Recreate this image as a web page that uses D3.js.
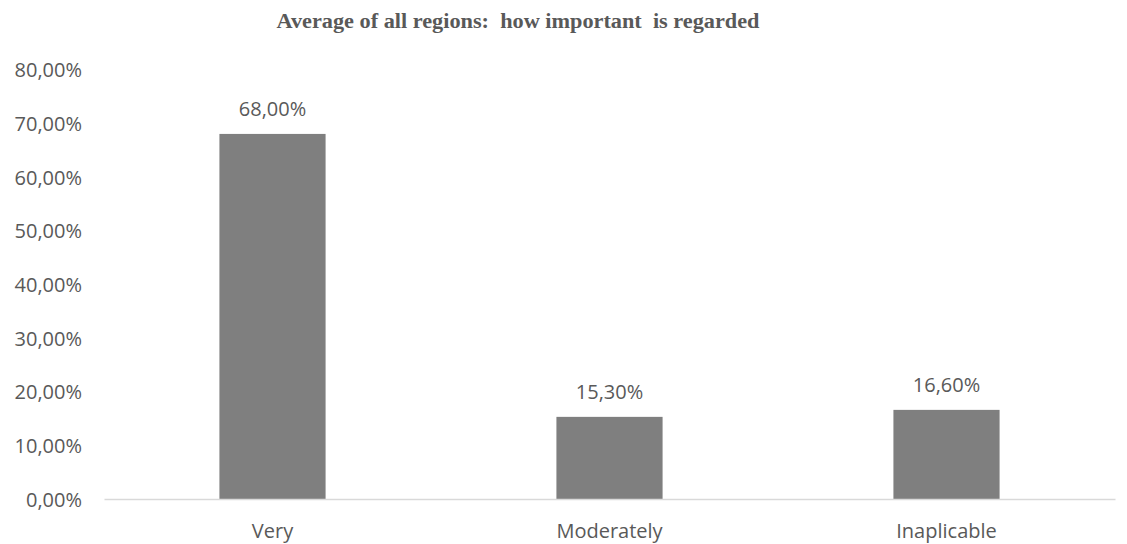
<!DOCTYPE html>
<html>
<head>
<meta charset="utf-8">
<script src="https://cdn.jsdelivr.net/npm/d3@7"></script>
<style>
  html, body { margin: 0; padding: 0; background: #ffffff; }
  svg { display: block; }
</style>
</head>
<body>
<svg id="chart" width="1127" height="544"></svg>
<script>
// Share of respondents per importance level, averaged over all regions
const categories = ["Very", "Moderately", "Inaplicable"];
const shares = [0.68, 0.153, 0.166];
const yTicks = [0, 0.1, 0.2, 0.3, 0.4, 0.5, 0.6, 0.7, 0.8];
const titleText = "Average of all regions:  how important  is regarded";

const width = 1127, height = 544;
const margin = { top: 69.5, right: 12, bottom: 45, left: 104 };

const svg = d3.select("#chart");

// Decimal comma, as in the European number format
const locale = d3.formatLocale({ decimal: ",", thousands: ".", grouping: [3], currency: ["", " €"] });
const pct = locale.format(".2%");

const x = d3.scaleBand()
  .domain(categories)
  .range([margin.left, width - margin.right])
  .paddingInner(0.685)
  .paddingOuter(0.3425);

const y = d3.scaleLinear()
  .domain([0, 0.8])
  .range([height - margin.bottom, margin.top]);

const textColor = "#595959";
const fontFamily = "'Open Sans', 'Noto Sans', sans-serif";
const labelSize = 20;

// Title
svg.append("text")
  .attr("x", 518)
  .attr("y", 28)
  .attr("text-anchor", "middle")
  .style("white-space", "pre")
  .attr("font-family", "'Liberation Serif', 'Times New Roman', serif")
  .attr("font-weight", "bold")
  .attr("font-size", 20)
  .attr("textLength", 483)
  .attr("lengthAdjust", "spacingAndGlyphs")
  .attr("fill", textColor)
  .text(titleText);

// Y axis: labels only
const yAxis = d3.axisLeft(y)
  .tickValues(yTicks)
  .tickFormat(pct)
  .tickSize(0)
  .tickPadding(0);

const yG = svg.append("g")
  .attr("transform", `translate(${margin.left - 22},0)`)
  .call(yAxis);
yG.select(".domain").remove();
yG.selectAll("text")
  .attr("font-family", fontFamily)
  .attr("font-size", labelSize)
  .attr("fill", textColor)
  .attr("dy", "0.36em");

// Bars
svg.append("g")
  .selectAll("rect")
  .data(categories)
  .join("rect")
  .attr("x", d => x(d))
  .attr("width", x.bandwidth())
  .attr("y", (d, i) => y(shares[i]))
  .attr("height", (d, i) => y(0) - y(shares[i]))
  .attr("fill", "#7f7f7f");

// Baseline and category labels
const xAxis = d3.axisBottom(x).tickSize(0).tickPadding(0);
const xG = svg.append("g")
  .attr("transform", `translate(0,${y(0)})`)
  .call(xAxis);
xG.select(".domain")
  .attr("stroke", "#d9d9d9")
  .attr("stroke-width", 1.5);
xG.selectAll("text")
  .attr("font-family", fontFamily)
  .attr("font-size", labelSize)
  .attr("fill", textColor)
  .attr("dy", 0)
  .attr("y", 39);

// Value labels above bars
svg.append("g")
  .selectAll("text")
  .data(categories)
  .join("text")
  .attr("x", d => x(d) + x.bandwidth() / 2)
  .attr("y", (d, i) => y(shares[i]) - 18)
  .attr("text-anchor", "middle")
  .attr("font-family", fontFamily)
  .attr("font-size", labelSize)
  .attr("fill", textColor)
  .text((d, i) => pct(shares[i]));
</script>
</body>
</html>
